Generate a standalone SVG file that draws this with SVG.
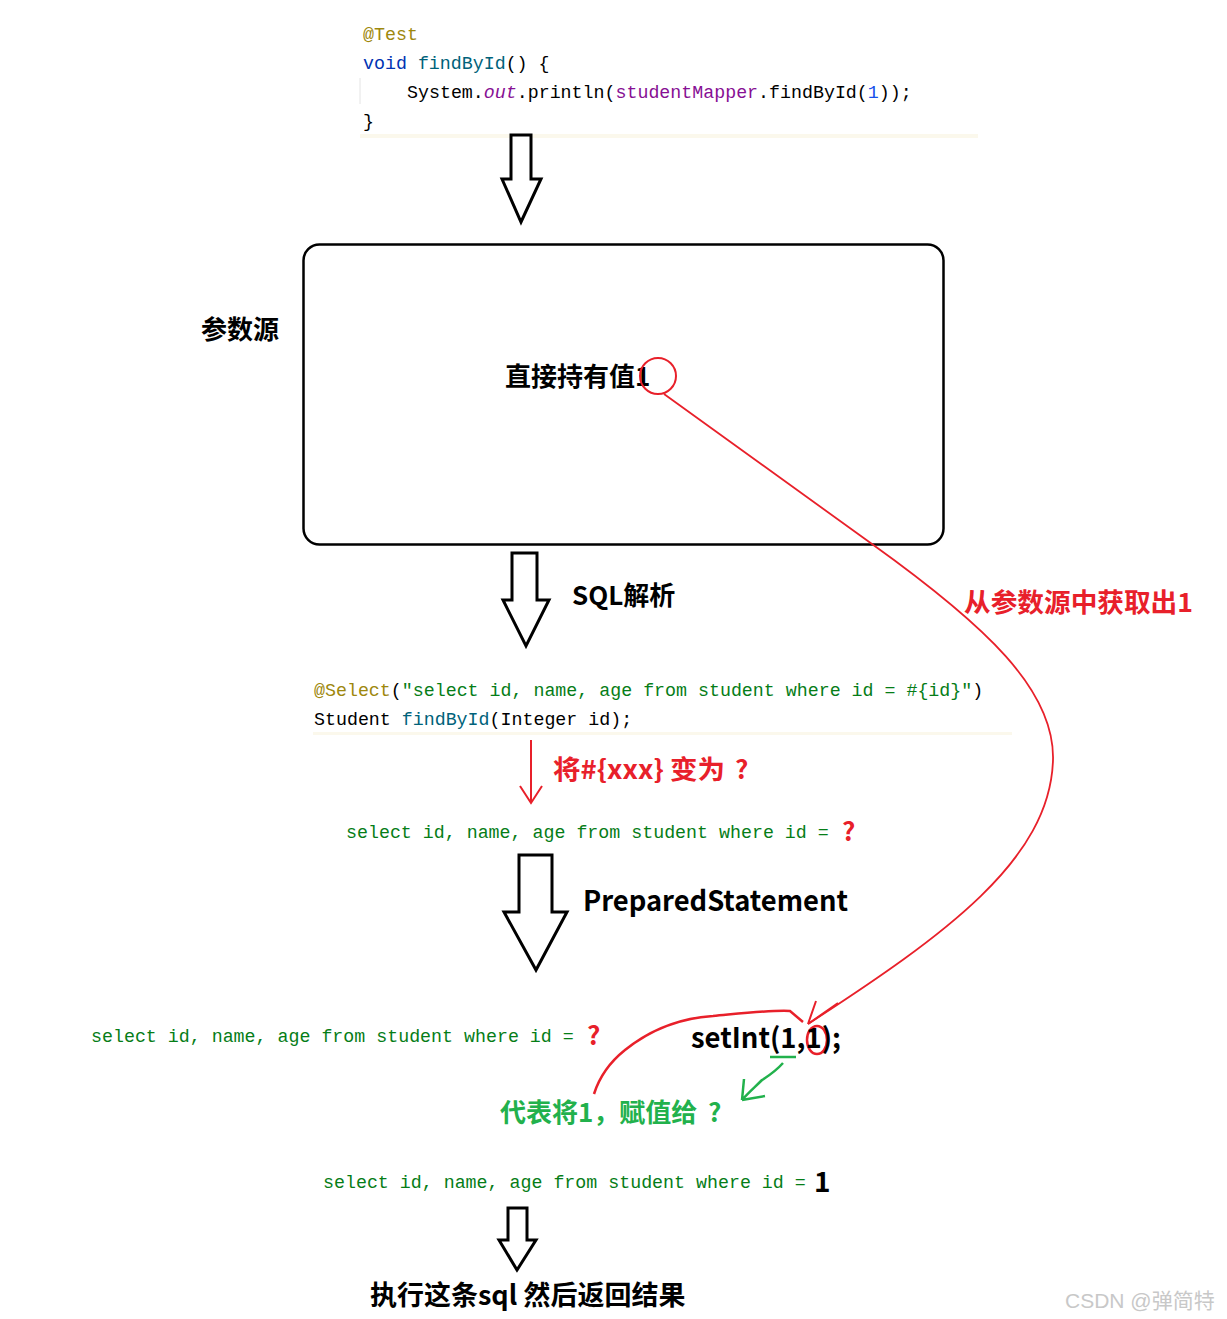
<svg xmlns="http://www.w3.org/2000/svg" width="1227" height="1319" viewBox="0 0 1227 1319">
<style>
.code{font-family:"Liberation Mono","DejaVu Sans Mono",monospace;font-size:18.3px;white-space:pre}
.bold{font-family:"Noto Sans CJK SC","Liberation Sans",sans-serif;font-weight:bold}
.blk{fill:#000}
.ann{fill:#9E880D}
.kw{fill:#0033B3}
.fn{fill:#00627A}
.fld{fill:#871094}
.num{fill:#1750EB}
.str{fill:#067D17}
.red{fill:#E8202A}
.grn{fill:#22B14C}
.fat{fill:#fff;stroke:#000;stroke-width:3;stroke-linejoin:miter}
</style>
<rect width="1227" height="1319" fill="#fff"/>

<g id="test-code">
<rect x="360" y="134" width="618" height="4" fill="#FBF8EC"/>
<line x1="360" y1="78" x2="360" y2="104" stroke="#e4e4e4" stroke-width="1"/>
<text class="code" x="363" y="40"><tspan class="ann">@Test</tspan></text>
<text class="code" x="363" y="69"><tspan class="kw">void</tspan><tspan class="blk"> </tspan><tspan class="fn">findById</tspan><tspan class="blk">() {</tspan></text>
<text class="code" x="407" y="98"><tspan class="blk">System.</tspan><tspan class="fld" font-style="italic">out</tspan><tspan class="blk">.println(</tspan><tspan class="fld">studentMapper</tspan><tspan class="blk">.findById(</tspan><tspan class="num">1</tspan><tspan class="blk">));</tspan></text>
<text class="code blk" x="363" y="127">}</text>
</g>

<g id="arrow1"><polygon class="fat" points="511,135 531,135 531,179 541,179 521,222 502,179 511,179"/></g>

<g id="param-source">
<rect x="303.5" y="244.5" width="640" height="300" rx="16" ry="16" fill="#fff" stroke="#000" stroke-width="2.5"/>
<text class="bold blk" x="201" y="339" font-size="26">参数源</text>
<text class="bold blk" x="505" y="386" font-size="26">直接持有值1</text>
<circle cx="658" cy="376" r="18" fill="none" stroke="#E8202A" stroke-width="2"/>
</g>

<g id="arrow2"><polygon class="fat" points="512,553 537,553 537,600 549,600 526,646 503,600 512,600"/></g>
<text class="bold blk" x="572" y="605" font-size="26">SQL解析</text>

<g id="mapper-code">
<rect x="313" y="732" width="699" height="3" fill="#FBF8EC"/>
<text class="code" x="314" y="696"><tspan class="ann">@Select</tspan><tspan class="blk">(</tspan><tspan class="str">"select id, name, age from student where id = #{id}"</tspan><tspan class="blk">)</tspan></text>
<text class="code" x="314" y="725"><tspan class="blk">Student </tspan><tspan class="fn">findById</tspan><tspan class="blk">(Integer id);</tspan></text>
</g>

<g id="connectors" fill="none">
<path d="M531,740 L531,803 M520,786 L531,803 L542,786" stroke="#E8202A" stroke-width="2"/>
<path d="M664,394 L872,544 C985,625 1055,690 1053,760 C1050,860 945,935 808,1024" stroke="#E8202A" stroke-width="1.8"/>
<path d="M808,1024 L816,1001 M808,1024 L838,1003" stroke="#E8202A" stroke-width="2"/>
<path d="M594,1094 C600,1075 610,1062 625,1050 C650,1030 680,1018 713,1016 C745,1013 770,1010 790,1011 L803,1022" stroke="#E8202A" stroke-width="2.5"/>
<ellipse cx="817" cy="1040" rx="10" ry="14" stroke="#E8202A" stroke-width="2.5"/>
<path d="M770,1057 L796,1057" stroke="#22B14C" stroke-width="2.5"/>
<path d="M783,1063 C775,1072 768,1076 762,1080 C755,1087 748,1093 742,1100 M742,1100 L744,1079 M742,1100 L765,1096" stroke="#22B14C" stroke-width="2.5"/>
</g>

<text class="bold red" x="553" y="779" font-size="26"><tspan textLength="172" lengthAdjust="spacingAndGlyphs">将#{xxx} 变为</tspan><tspan x="735">?</tspan></text>
<text class="bold red" x="964" y="612" font-size="26" textLength="229" lengthAdjust="spacingAndGlyphs">从参数源中获取出1</text>

<g id="sql-q1">
<text class="code str" x="346" y="838">select id, name, age from student where id =</text>
<text class="bold red" x="842" y="841" font-size="26">?</text>
</g>

<g id="arrow3"><polygon class="fat" points="519,855 552,855 552,912 567,912 536,970 504,912 519,912"/></g>
<text class="bold blk" x="583" y="911" font-size="28" textLength="265" lengthAdjust="spacingAndGlyphs">PreparedStatement</text>

<g id="sql-q2">
<text class="code str" x="91" y="1042">select id, name, age from student where id =</text>
<text class="bold red" x="587" y="1045" font-size="26">?</text>
</g>

<text class="bold blk" x="691" y="1048" font-size="28" textLength="150" lengthAdjust="spacingAndGlyphs">setInt(1,1);</text>
<text class="bold grn" x="500" y="1122" font-size="26">代表将1，赋值给<tspan x="708">?</tspan></text>

<g id="sql-final">
<text class="code str" x="323" y="1188">select id, name, age from student where id =</text>
<text class="bold blk" x="814" y="1192" font-size="28">1</text>
</g>

<g id="arrow4"><polygon class="fat" points="508,1208 527,1208 527,1240 536,1240 517,1270 499,1240 508,1240"/></g>
<text class="bold blk" x="370" y="1305" font-size="27">执行这条sql 然后返回结果</text>

<text x="1065" y="1308" font-family="Liberation Sans,Noto Sans CJK SC,sans-serif" font-size="21" fill="#c8c8c8">CSDN @弹简特</text>
</svg>
